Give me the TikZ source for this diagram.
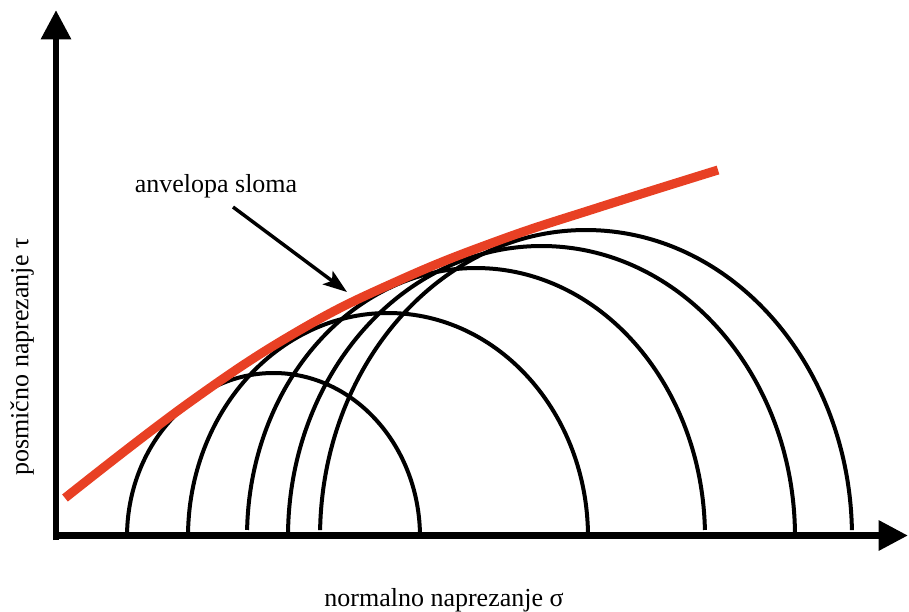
\documentclass[tikz,border=0pt]{standalone}
\usepackage{fontspec}
\setmainfont{Liberation Serif}
\usetikzlibrary{arrows.meta}
\definecolor{envred}{RGB}{232,64,36}
\tikzset{
  axisline/.style={line width=5.2pt, -{Triangle[length=22pt,width=21.5pt]}},
  mohr/.style={line width=3pt, black},
  envelope/.style={line width=6.8pt, envred},
  pointer/.style={line width=2.6pt, -{Stealth[length=18pt,width=12.5pt,inset=4pt]}},
  lbl/.style={font=\fontsize{19.5}{23}\selectfont, inner sep=0pt}
}
\begin{document}
\begin{tikzpicture}[x=0.75pt,y=-0.75pt]
\useasboundingbox (0,0) rectangle (909,611);
% Mohr semi-circles
\draw[mohr] (127,537) arc[start angle=180, end angle=360, x radius=146.5, y radius=164];
\draw[mohr] (188,537) arc[start angle=180, end angle=360, x radius=200, y radius=224];
\draw[mohr] ([shift={(181.5:229 and 269)}]476,537) arc[start angle=181.5, end angle=358.5, x radius=229, y radius=269];
\draw[mohr] (288,537) arc[start angle=180, end angle=360, x radius=253.5, y radius=291];
\draw[mohr] ([shift={(181.3:266 and 307)}]586,537) arc[start angle=181.3, end angle=358.7, x radius=266, y radius=307];
% failure envelope
\draw[envelope] plot[smooth, tension=0.7] coordinates {(65,498) (190,402) (300,330) (400,280) (500,240) (600,207) (718,170)};
% axes
\draw[axisline] (56,540) -- (56,10);
\draw[axisline] (53,535.5) -- (908,535.5);
% labels
\node[lbl] (envlabel) at (216,186) {anvelopa sloma};
\node[lbl] (xlabel) at (444,600) {normalno naprezanje σ};
\node[lbl, rotate=90] (ylabel) at (22,357) {posmično naprezanje τ};
\coordinate (tail) at (233,207);
\coordinate (tip) at (347,292);
\draw[pointer] (tail) -- (tip);
\end{tikzpicture}
\end{document}
